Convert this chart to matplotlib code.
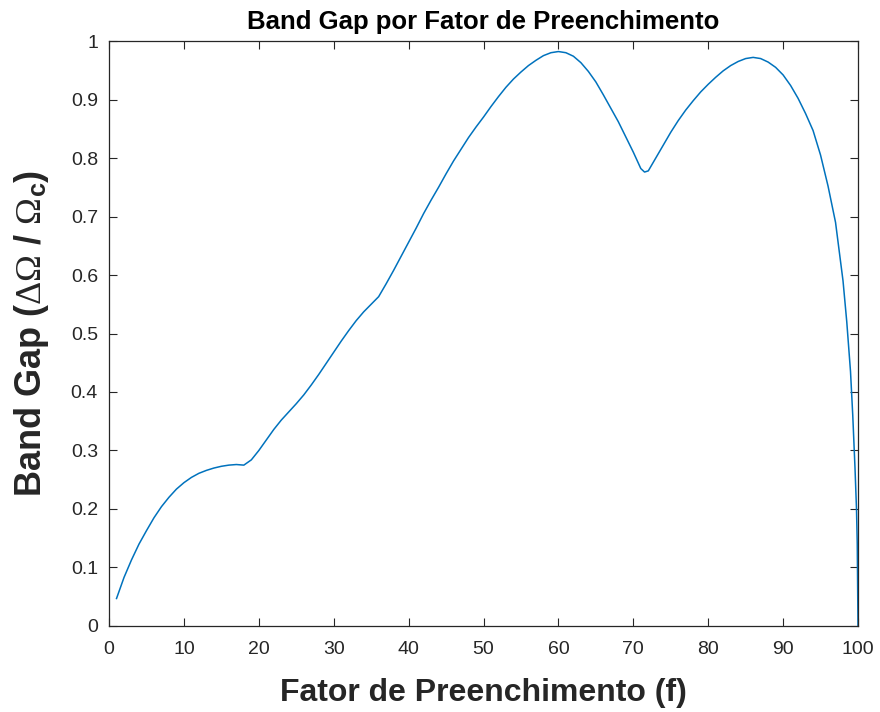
import matplotlib
matplotlib.use("Agg")
import matplotlib.pyplot as plt

# Band gap width vs. filling factor (f in %)
fill_factor = [1, 2, 3, 4, 5, 6, 7, 8, 9, 10, 11, 12, 13, 14, 15, 16, 17, 18,
               19, 20, 21, 22, 23, 24, 25, 26, 27, 28, 29, 30, 31, 32, 33, 34,
               35, 36, 37, 38, 39, 40, 41, 42, 43, 44, 45, 46, 47, 48, 49, 50,
               51, 52, 53, 54, 55, 56, 57, 58, 59, 60, 61, 62, 63, 64, 65, 66,
               67, 68, 69, 70, 71, 71.5, 72, 73, 74, 75, 76, 77, 78, 79, 80, 81,
               82, 83, 84, 85, 86, 87, 88, 89, 90, 91, 92, 93, 94, 95, 96, 97,
               98, 98.5, 99, 99.3, 99.6, 99.8, 99.9, 100]
band_gap = [0.047, 0.083, 0.113, 0.140, 0.163, 0.185, 0.204, 0.220, 0.234,
            0.245, 0.254, 0.261, 0.266, 0.270, 0.273, 0.275, 0.276, 0.275,
            0.284, 0.300, 0.318, 0.336, 0.352, 0.366, 0.380, 0.395,
            0.412, 0.430, 0.449, 0.468, 0.487, 0.505, 0.522, 0.537, 0.550,
            0.563, 0.585, 0.608, 0.632, 0.656, 0.680, 0.705, 0.728, 0.750,
            0.773, 0.795, 0.815, 0.835, 0.853, 0.870, 0.888, 0.905, 0.921,
            0.935, 0.947, 0.958, 0.967, 0.975, 0.980, 0.982, 0.980, 0.974,
            0.963, 0.948, 0.930, 0.908, 0.885, 0.862, 0.836, 0.810, 0.782,
            0.776, 0.778, 0.800, 0.822, 0.844, 0.864, 0.882, 0.898, 0.913,
            0.926, 0.938, 0.949, 0.958, 0.965, 0.970, 0.972, 0.970, 0.964,
            0.955, 0.942, 0.924, 0.902, 0.876, 0.847, 0.805, 0.752, 0.690,
            0.590, 0.520, 0.435, 0.360, 0.270, 0.200, 0.140, 0.0]

x_ticks = list(range(0, 101, 10))
y_ticks = [0, 0.1, 0.2, 0.3, 0.4, 0.5, 0.6, 0.7, 0.8, 0.9, 1]
y_tick_labels = ["0", "0.1", "0.2", "0.3", "0.4", "0.5", "0.6", "0.7", "0.8", "0.9", "1"]

plt.rcParams["font.family"] = ["Liberation Sans", "DejaVu Sans"]
plt.rcParams["mathtext.fontset"] = "custom"
plt.rcParams["mathtext.rm"] = "Liberation Serif"
plt.rcParams["mathtext.it"] = "Liberation Serif:italic"
plt.rcParams["mathtext.bf"] = "Liberation Sans:bold"

axis_color = "#262626"

fig = plt.figure(figsize=(8.8, 7.12), dpi=100)
ax = fig.add_axes([0.1239, 0.1208, 0.8511, 0.8216])

ax.plot(fill_factor, band_gap, color="#0072BD", linewidth=1.1)

ax.set_xlim(0, 100)
ax.set_ylim(0, 1)
ax.set_xticks(x_ticks)
ax.set_yticks(y_ticks)
ax.set_yticklabels(y_tick_labels)

ax.tick_params(direction="in", length=6, width=0.8, top=True, right=True,
               labelsize=14, colors=axis_color)
ax.tick_params(axis="x", pad=11)
ax.tick_params(axis="y", pad=8)
for spine in ax.spines.values():
    spine.set_color(axis_color)
    spine.set_linewidth(0.9)

ax.set_title("Band Gap por Fator de Preenchimento", fontsize=18.5,
             fontweight="bold", pad=9)
ax.set_xlabel("Fator de Preenchimento (f)", fontsize=23, fontweight="bold",
              color=axis_color, labelpad=14)
ax.set_ylabel(r"Band Gap ($\Delta\Omega$ / $\Omega_{\mathbf{c}}$)", fontsize=26,
              fontweight="bold", color=axis_color)
ax.yaxis.set_label_coords(-0.078, 0.5)

fig.savefig("out.png", dpi=100, facecolor="white")
